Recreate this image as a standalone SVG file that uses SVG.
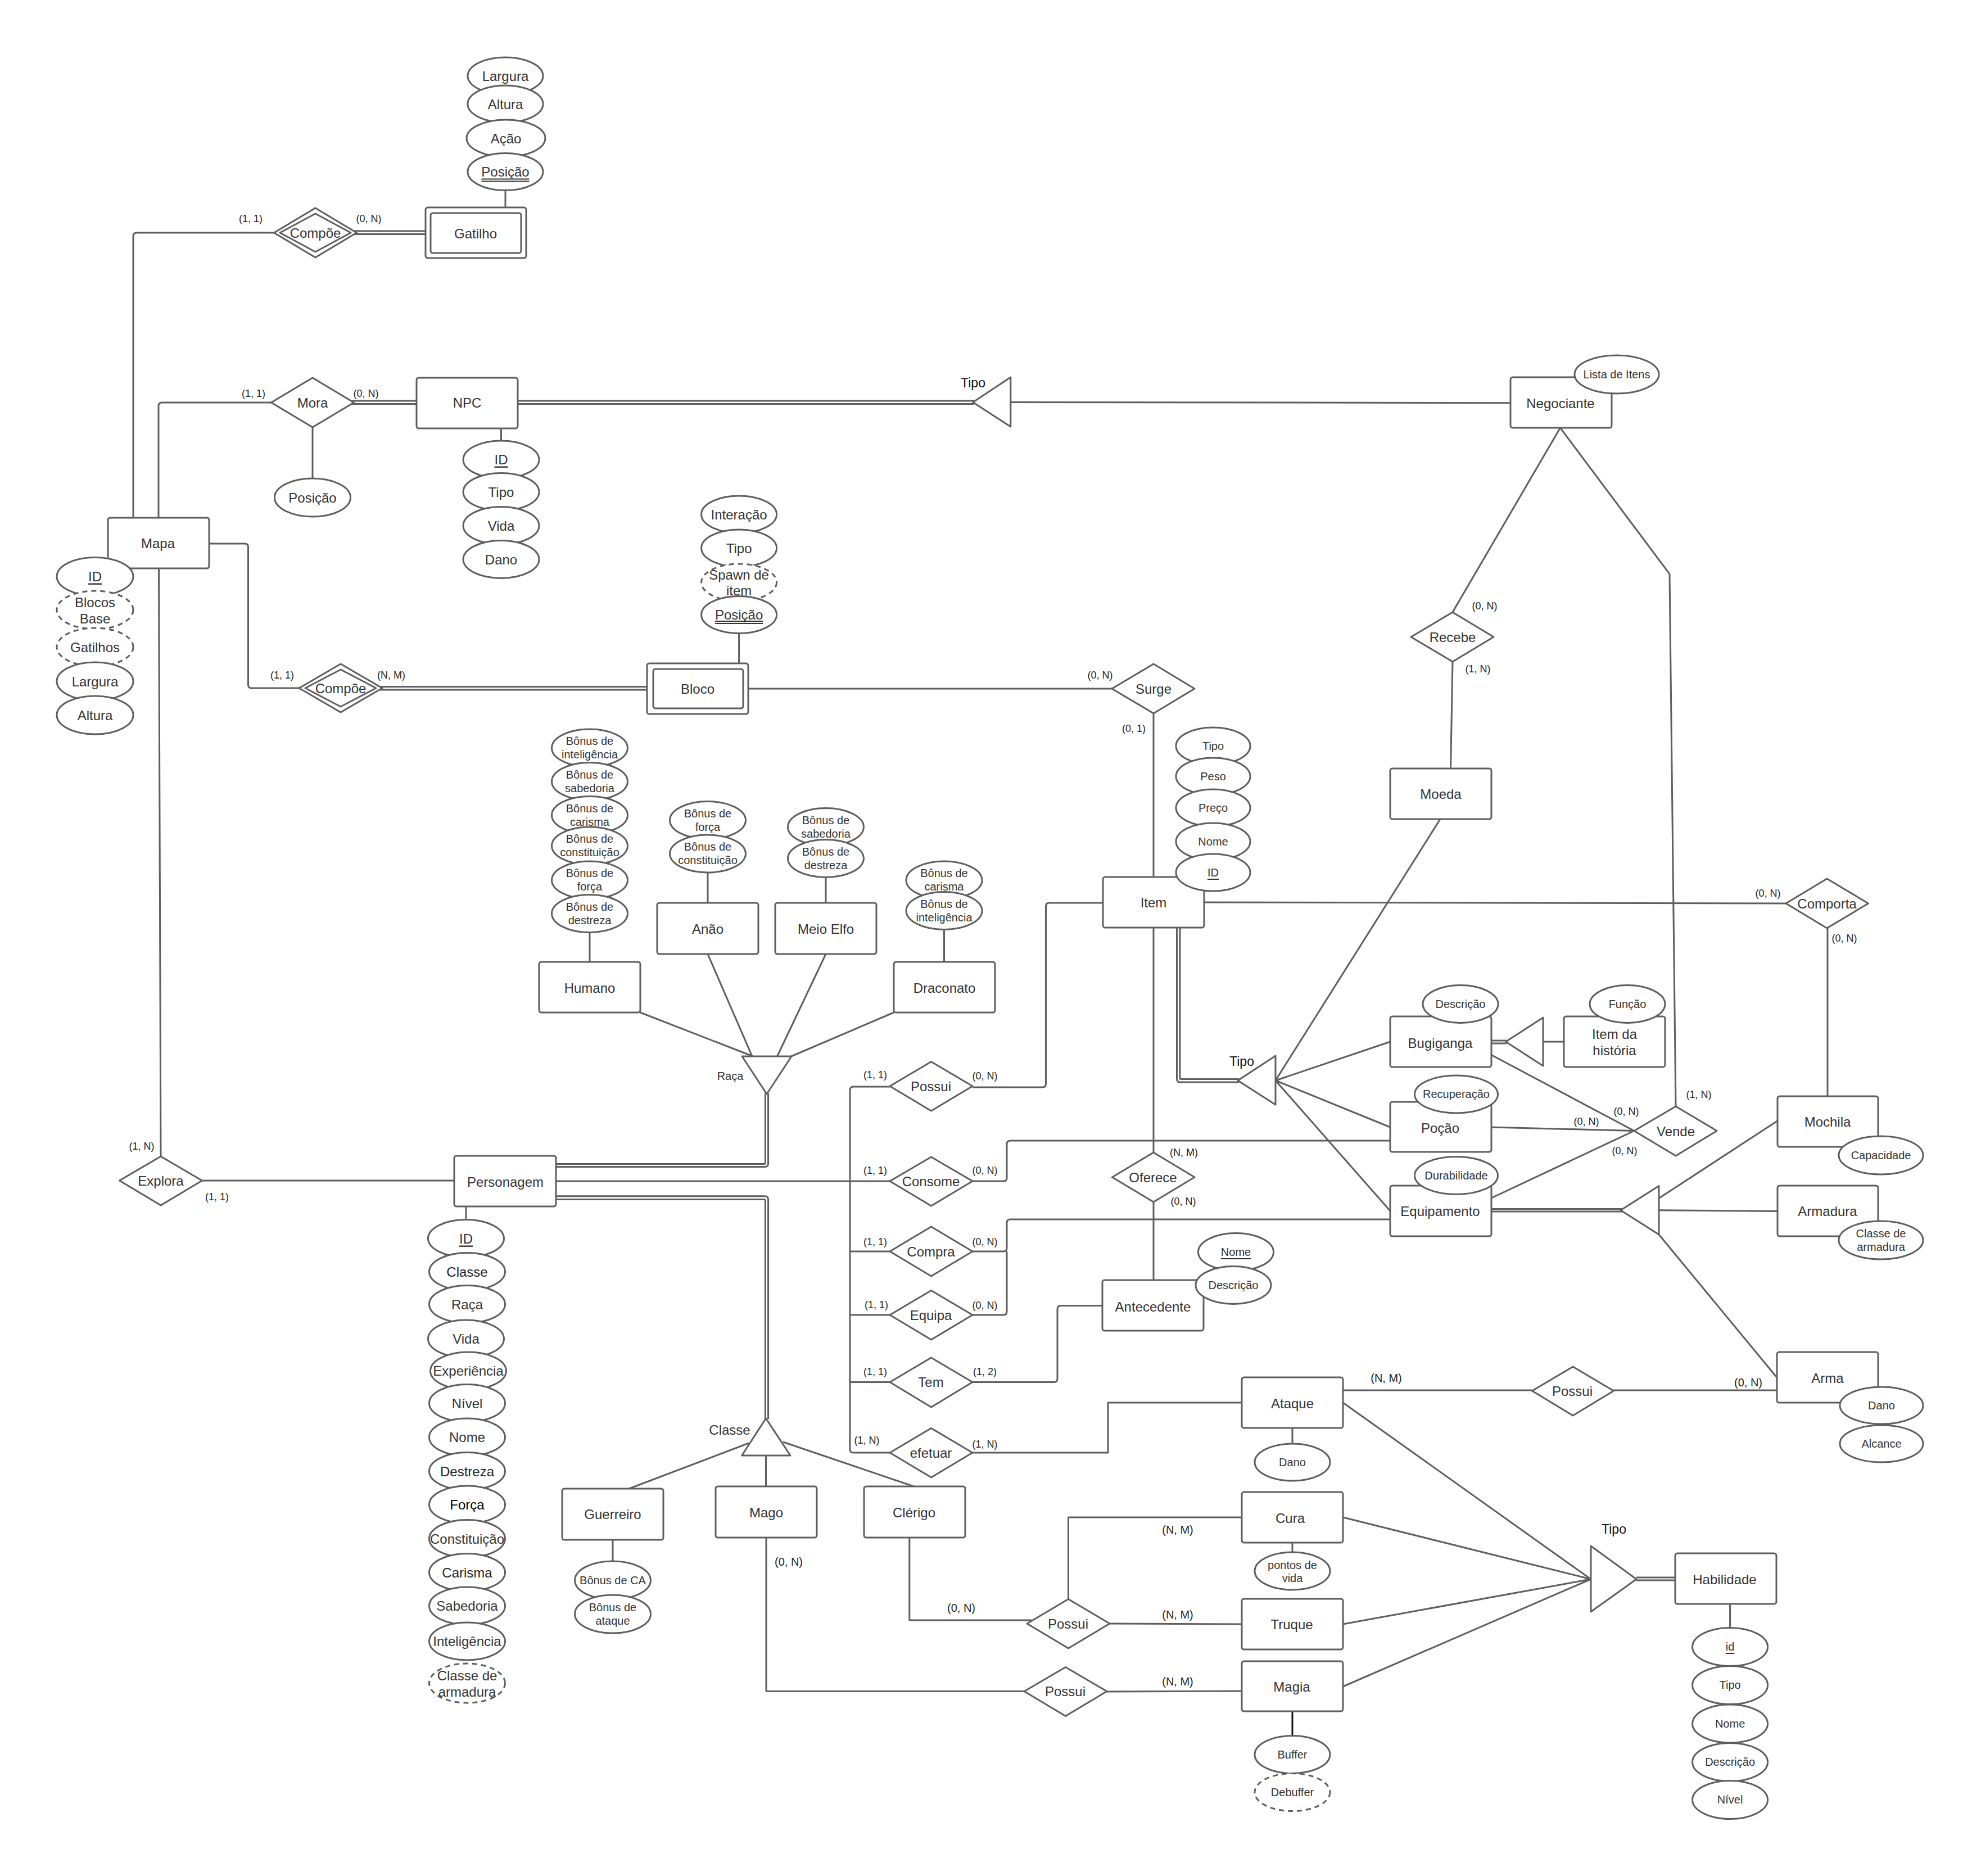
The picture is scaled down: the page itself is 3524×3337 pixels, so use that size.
<svg xmlns="http://www.w3.org/2000/svg" width="3524" height="3337" viewBox="0 0 3524 3337">
<style>
  .ln { fill: none; stroke: #5e5e5e; stroke-width: 3; stroke-linejoin: round; stroke-linecap: butt; }
  .en { fill: #fff; stroke: #5e5e5e; stroke-width: 3; }
  .rel { fill: #fff; stroke: #5e5e5e; stroke-width: 3; stroke-linejoin: round; }
  .at { fill: #fff; stroke: #5e5e5e; stroke-width: 3; }
  .dv { fill: #fff; stroke: #5e5e5e; stroke-width: 3; stroke-dasharray: 9 7; }
  .tri { fill: #fff; stroke: #5e5e5e; stroke-width: 3; stroke-linejoin: round; }
  text { font-family: "Liberation Sans", Arial, sans-serif; fill: #333; text-anchor: middle; dominant-baseline: central; }
  .l { font-size: 24px; }
  .m { font-size: 20px; }
  .c { font-size: 18px; fill: #222; }
  .cb { font-size: 20px; fill: #222; }
  .tp { font-size: 23px; fill: #111; }
  .u { text-decoration: underline; }
</style>
<rect width="3524" height="3337" fill="#fff"/>

<g id="connectors">
  <!-- Mapa side -->
  <path class="ln" d="M487,414 H243 Q237,414 237,420 V921"/>
  <path class="ln" d="M630,411 H757 M630,416.5 H757"/>
  <path class="ln" d="M899,339 V369"/>
  <path class="ln" d="M483,716 H288 Q282,716 282,722 V921"/>
  <path class="ln" d="M626,713 H741 M626,718.5 H741"/>
  <path class="ln" d="M556,760 V851"/>
  <path class="ln" d="M891.5,762 V784"/>
  <path class="ln" d="M921,713 H1733 M921,718.5 H1733"/>
  <path class="ln" d="M1797.8,715.4 L2687,716.7"/>
  <path class="ln" d="M2775.5,761 L2584,1089"/>
  <path class="ln" d="M2584,1177 L2580.6,1367"/>
  <path class="ln" d="M2562,1457 L2269,1922"/>
  <path class="ln" d="M2775.5,761 L2970,1021 L2981,1968"/>
  <path class="ln" d="M371.5,967 H435.5 Q441.5,967 441.5,973 V1218 Q441.5,1224 447.5,1224 H532"/>
  <path class="ln" d="M676,1221.5 H1151 M676,1227 H1151"/>
  <path class="ln" d="M1314.6,1127 V1180"/>
  <path class="ln" d="M1331,1225 H1978"/>
  <path class="ln" d="M2052,1269 V1560"/>
  <path class="ln" d="M2141,1605 L3177,1607"/>
  <path class="ln" d="M3251,1651 V1950"/>
  <!-- Item specialisation -->
  <path class="ln" d="M2093.5,1650 V1919 Q2093.5,1925 2099.5,1925 H2204 M2099,1650 V1917.5 Q2099,1919.5 2101,1919.5 H2204"/>
  <path class="ln" d="M2269,1922 L2473,1853 M2269,1922 L2473,2005 M2269,1922 L2473,2154"/>
  <path class="ln" d="M2652,1851 H2680 M2652,1856 H2680"/>
  <path class="ln" d="M2745,1853 H2782"/>
  <path class="ln" d="M2652,1876 L2907,2011.5 M2652,2005 L2907,2011.5 M2652,2131.5 L2907,2011.5"/>
  <path class="ln" d="M2652,2150.5 H2885 M2652,2155 H2885"/>
  <path class="ln" d="M2951,2131.5 L3162,1993.7 M2951,2152.7 L3162,2154.4 M2951,2196 L3161.5,2451"/>
  <!-- Races -->
  <path class="ln" d="M1139,1801 L1339.5,1879 M1259,1697 L1338,1879 M1469,1697 L1382.6,1879 M1590,1801 L1407.5,1879"/>
  <path class="ln" d="M1049,1658 V1711.5 M1259,1552 V1606 M1469,1560 V1606 M1679.5,1653 V1711.5"/>
  <path class="ln" d="M1366.6,1945 V2069.5 Q1366.6,2075.5 1360.6,2075.5 H989 M1361.4,1945 V2068.6 Q1361.4,2070.6 1359.4,2070.6 H989"/>
  <!-- Personagem hub -->
  <path class="ln" d="M989,2101 H1583"/>
  <path class="ln" d="M989,2127.8 H1360.6 Q1366.6,2127.8 1366.6,2133.8 V2524 M989,2133.6 H1359.4 Q1361.4,2133.6 1361.4,2135.6 V2524"/>
  <path class="ln" d="M1583,1933 H1518 Q1512,1933 1512,1939 V2578 Q1512,2584 1518,2584 H1583 M1512,2226 H1583 M1512,2339 H1583 M1512,2458.5 H1583"/>
  <path class="ln" d="M1730,1934 H1854.5 Q1860.5,1934 1860.5,1928 V1612 Q1860.5,1606 1866.5,1606 H1962"/>
  <path class="ln" d="M1730,2101 H1785 Q1791,2101 1791,2095 V2035 Q1791,2029 1797,2029 H2473"/>
  <path class="ln" d="M1730,2226 H1785 Q1791,2226 1791,2220 V2175 Q1791,2169 1797,2169 H2473"/>
  <path class="ln" d="M1730,2339 H1785 Q1791,2339 1791,2333 V2226"/>
  <path class="ln" d="M1730,2458.5 H1875 Q1881,2458.5 1881,2452.5 V2328.5 Q1881,2322.5 1887,2322.5 H1961"/>
  <path class="ln" d="M1730,2584 H1971 V2495 H2209"/>
  <path class="ln" d="M2052,1650 V2050 M2052,2138 V2277"/>
  <path class="ln" d="M282.5,1011 L286,2057"/>
  <path class="ln" d="M360,2100 H808.6"/>
  <path class="ln" d="M829,2146 V2170"/>
  <!-- Classe -->
  <path class="ln" d="M1332,2567 L1119,2648 M1362.5,2589 V2644 M1393,2565 L1625.6,2644"/>
  <path class="ln" d="M1090,2739 V2777"/>
  <path class="ln" d="M1363,2735 V3008.5 H1822"/>
  <path class="ln" d="M1617.8,2735 V2882 H1835"/>
  <path class="ln" d="M1900.5,2844 V2699 H2209"/>
  <path class="ln" d="M1974,2888 L2209,2889"/>
  <path class="ln" d="M1969,3009 L2209,3008"/>
  <!-- Habilidades -->
  <path class="ln" d="M2389,2473 H2725.5 M2870.5,2473 H3161.5"/>
  <path class="ln" d="M2389,2495 L2830,2809 M2389,2699 L2830,2809 M2389,2889 L2830,2809 M2389,3000 L2830,2809"/>
  <path class="ln" d="M2911,2806 H2980 M2911,2811 H2980"/>
  <path class="ln" d="M3077.6,2853 V2896"/>
  <path class="ln" d="M2299,2540 V2568 M2299,2744 V2761"/>
  <path d="M2299,3044 V3087" fill="none" stroke="#111" stroke-width="3"/>
</g>

<!-- Entities -->
<g id="gatilho"><rect class="en" x="757" y="369" width="179" height="90" rx="4"/><rect class="en" x="766" y="379" width="161" height="71" rx="4"/><text class="l" x="846" y="415">Gatilho</text></g>
<g id="npc"><rect class="en" x="741" y="672" width="180" height="90" rx="4"/><text class="l" x="831" y="716">NPC</text></g>
<g id="mapa"><rect class="en" x="192" y="921" width="180" height="90" rx="4"/><text class="l" x="281" y="966">Mapa</text></g>
<g id="bloco"><rect class="en" x="1151" y="1180" width="180" height="90" rx="4"/><rect class="en" x="1162" y="1190" width="160" height="70" rx="4"/><text class="l" x="1241" y="1225">Bloco</text></g>
<g id="negociante"><rect class="en" x="2687" y="671" width="180" height="90" rx="4"/><text class="l" x="2776" y="717">Negociante</text></g>
<g id="moeda"><rect class="en" x="2473" y="1367" width="180" height="90" rx="4"/><text class="l" x="2563" y="1412">Moeda</text></g>
<g id="item"><rect class="en" x="1962" y="1560" width="180" height="90" rx="4"/><text class="l" x="2052" y="1605">Item</text></g>
<g id="humano"><rect class="en" x="959" y="1711" width="180" height="90" rx="4"/><text class="l" x="1049" y="1757">Humano</text></g>
<g id="anao"><rect class="en" x="1169" y="1606" width="180" height="91" rx="4"/><text class="l" x="1259" y="1652">Anão</text></g>
<g id="meio-elfo"><rect class="en" x="1379" y="1606" width="180" height="91" rx="4"/><text class="l" x="1469" y="1652">Meio Elfo</text></g>
<g id="draconato"><rect class="en" x="1590" y="1711" width="180" height="90" rx="4"/><text class="l" x="1680" y="1757">Draconato</text></g>
<g id="personagem"><rect class="en" x="808" y="2056" width="181" height="90" rx="4"/><text class="l" x="899" y="2102">Personagem</text></g>
<g id="bugiganga"><rect class="en" x="2473" y="1808" width="180" height="90" rx="4"/><text class="l" x="2562" y="1855">Bugiganga</text></g>
<g id="item-historia"><rect class="en" x="2782" y="1808" width="180" height="90" rx="4"/><text class="l" x="2872" y="1853"><tspan x="2872" dy="-14">Item da</tspan><tspan x="2872" dy="29">história</tspan></text></g>
<g id="pocao"><rect class="en" x="2473" y="1960" width="180" height="89" rx="4"/><text class="l" x="2562" y="2006">Poção</text></g>
<g id="equipamento"><rect class="en" x="2473" y="2109" width="180" height="90" rx="4"/><text class="l" x="2562" y="2154">Equipamento</text></g>
<g id="mochila"><rect class="en" x="3162" y="1950" width="179" height="90" rx="4"/><text class="l" x="3251" y="1995">Mochila</text></g>
<g id="armadura"><rect class="en" x="3162" y="2109" width="179" height="90" rx="4"/><text class="l" x="3251" y="2154">Armadura</text></g>
<g id="arma"><rect class="en" x="3161" y="2405" width="180" height="90" rx="4"/><text class="l" x="3251" y="2451">Arma</text></g>
<g id="antecedente"><rect class="en" x="1961" y="2277" width="180" height="90" rx="4"/><text class="l" x="2051" y="2324">Antecedente</text></g>
<g id="ataque"><rect class="en" x="2209" y="2450" width="180" height="90" rx="4"/><text class="l" x="2299" y="2496">Ataque</text></g>
<g id="cura"><rect class="en" x="2209" y="2654" width="180" height="90" rx="4"/><text class="l" x="2295" y="2700">Cura</text></g>
<g id="truque"><rect class="en" x="2209" y="2844" width="180" height="90" rx="4"/><text class="l" x="2298" y="2889">Truque</text></g>
<g id="magia"><rect class="en" x="2209" y="2955" width="180" height="89" rx="4"/><text class="l" x="2298" y="3000">Magia</text></g>
<g id="habilidade"><rect class="en" x="2980" y="2763" width="180" height="90" rx="4"/><text class="l" x="3068" y="2809">Habilidade</text></g>
<g id="guerreiro"><rect class="en" x="1000" y="2648" width="180" height="91" rx="4"/><text class="l" x="1090" y="2693">Guerreiro</text></g>
<g id="mago"><rect class="en" x="1273" y="2644" width="180" height="91" rx="4"/><text class="l" x="1363" y="2690">Mago</text></g>
<g id="clerigo"><rect class="en" x="1537" y="2644" width="180" height="91" rx="4"/><text class="l" x="1626" y="2690">Clérigo</text></g>

<!-- Specialisation triangles -->
<g id="tipo-npc"><polygon class="tri" points="1730.7,715.4 1797.8,671 1797.8,759"/><text class="tp" x="1731" y="681">Tipo</text></g>
<g id="tipo-item"><polygon class="tri" points="2202,1922 2269,1878 2269,1965"/><text class="tp" x="2209" y="1888">Tipo</text></g>
<g id="tipo-bugiganga"><polygon class="tri" points="2678.6,1853 2745,1810 2745,1896"/></g>
<g id="tipo-equipamento"><polygon class="tri" points="2883,2152.7 2951,2109.6 2951,2196"/></g>
<g id="tipo-habilidade"><polygon class="tri" points="2830,2750 2911,2809 2830,2867"/><text class="tp" x="2871" y="2720">Tipo</text></g>
<g id="raca"><polygon class="tri" points="1320,1879 1408,1879 1364,1946"/><text class="m" x="1299" y="1914">Raça</text></g>
<g id="classe"><polygon class="tri" points="1362.5,2523 1406,2589 1319.7,2589"/><text class="l" x="1298" y="2543">Classe</text></g>

<!-- Relationships -->
<g id="compoe-gatilho"><polygon class="rel" points="487.5,414 561,370 634.5,414 561,458"/><polygon class="rel" points="498,414 561,380 624,414 561,448"/><text class="l" x="561" y="414">Compõe</text></g>
<g id="mora"><polygon class="rel" points="482.5,716 556,672 629.5,716 556,760"/><text class="l" x="556" y="716">Mora</text></g>
<g id="compoe-bloco"><polygon class="rel" points="532,1224 606,1181 680,1224 606,1267"/><polygon class="rel" points="543,1224 606,1191 669,1224 606,1257"/><text class="l" x="606" y="1224">Compõe</text></g>
<g id="surge"><polygon class="rel" points="1978,1225 2052,1181 2125,1225 2052,1269"/><text class="l" x="2052" y="1225">Surge</text></g>
<g id="recebe"><polygon class="rel" points="2510,1133 2584,1089 2657,1133 2584,1177"/><text class="l" x="2584" y="1133">Recebe</text></g>
<g id="comporta"><polygon class="rel" points="3177,1607 3250,1563 3323.5,1607 3250,1651"/><text class="l" x="3250" y="1607">Comporta</text></g>
<g id="vende"><polygon class="rel" points="2907,2011.5 2981,1968 3054,2011.5 2981,2056"/><text class="l" x="2981" y="2012">Vende</text></g>
<g id="explora"><polygon class="rel" points="212.5,2100 286,2057 359.5,2100 286,2144"/><text class="l" x="286" y="2100">Explora</text></g>
<g id="possui-item"><polygon class="rel" points="1583,1932 1656.5,1888.5 1730,1932 1656.5,1976"/><text class="l" x="1656" y="1932">Possui</text></g>
<g id="consome"><polygon class="rel" points="1583,2101 1656.5,2058 1730,2101 1656.5,2145"/><text class="l" x="1656" y="2101">Consome</text></g>
<g id="compra"><polygon class="rel" points="1583,2226 1656.5,2182 1730,2226 1656.5,2270"/><text class="l" x="1656" y="2226">Compra</text></g>
<g id="equipa"><polygon class="rel" points="1583,2339 1656.5,2295.5 1730,2339 1656.5,2383"/><text class="l" x="1656" y="2339">Equipa</text></g>
<g id="tem"><polygon class="rel" points="1583,2458.5 1656.5,2415 1730,2458.5 1656.5,2503"/><text class="l" x="1656" y="2458">Tem</text></g>
<g id="efetuar"><polygon class="rel" points="1583,2584 1656.5,2540.5 1730,2584 1656.5,2628"/><text class="l" x="1656" y="2584">efetuar</text></g>
<g id="oferece"><polygon class="rel" points="1978.5,2094 2052,2050 2125,2094 2052,2138"/><text class="l" x="2051" y="2094">Oferece</text></g>
<g id="possui-cura"><polygon class="rel" points="1827,2888 1900.5,2844.5 1974,2888 1900.5,2932"/><text class="l" x="1900" y="2888">Possui</text></g>
<g id="possui-magia"><polygon class="rel" points="1822,3008.5 1895.5,2965.5 1969,3008.5 1895.5,3052.5"/><text class="l" x="1895" y="3008">Possui</text></g>
<g id="possui-arma"><polygon class="rel" points="2725.5,2474 2798,2431 2870.5,2474 2798,2518"/><text class="l" x="2797" y="2474">Possui</text></g>

<!-- Attributes -->
<g id="gatilho-attrs">
  <ellipse class="at" cx="899" cy="135" rx="67" ry="33"/><text class="l" x="899" y="135">Largura</text>
  <ellipse class="at" cx="899" cy="185" rx="67" ry="33"/><text class="l" x="899" y="185">Altura</text>
  <ellipse class="at" cx="900" cy="246" rx="70" ry="33"/><text class="l" x="900" y="246">Ação</text>
  <ellipse class="at" cx="899" cy="305.5" rx="67" ry="33"/><text class="l" x="899" y="305">Posição</text>
  <path class="ln" d="M856.5,318.5 H941.5 M856.5,322.5 H941.5" style="stroke:#333;stroke-width:2"/>
</g>
<g id="mora-attrs"><ellipse class="at" cx="556" cy="885" rx="67.5" ry="34"/><text class="l" x="556" y="885">Posição</text></g>
<g id="npc-attrs">
  <ellipse class="at" cx="891.5" cy="817.5" rx="67.5" ry="33.5"/><text class="l u" x="891.5" y="817">ID</text>
  <ellipse class="at" cx="891.5" cy="875" rx="67.5" ry="33.5"/><text class="l" x="891.5" y="875">Tipo</text>
  <ellipse class="at" cx="891.5" cy="935" rx="67.5" ry="33.5"/><text class="l" x="891.5" y="935">Vida</text>
  <ellipse class="at" cx="891.5" cy="995" rx="67.5" ry="33.5"/><text class="l" x="891.5" y="995">Dano</text>
</g>
<g id="mapa-attrs">
  <ellipse class="at" cx="169" cy="1025.5" rx="68" ry="34"/><text class="l u" x="169" y="1025">ID</text>
  <ellipse class="dv" cx="169" cy="1085" rx="68" ry="34"/><text class="l" x="169" y="1085"><tspan x="169" dy="-14">Blocos</tspan><tspan x="169" dy="29">Base</tspan></text>
  <ellipse class="dv" cx="169" cy="1151" rx="68" ry="34"/><text class="l" x="169" y="1151">Gatilhos</text>
  <ellipse class="at" cx="169" cy="1212" rx="68" ry="34"/><text class="l" x="169" y="1212">Largura</text>
  <ellipse class="at" cx="169" cy="1272" rx="68" ry="34"/><text class="l" x="169" y="1272">Altura</text>
</g>
<g id="bloco-attrs">
  <ellipse class="at" cx="1314.6" cy="915" rx="67" ry="33"/><text class="l" x="1314.6" y="915">Interação</text>
  <ellipse class="at" cx="1314.6" cy="975" rx="67" ry="33"/><text class="l" x="1314.6" y="975">Tipo</text>
  <ellipse class="dv" cx="1314.6" cy="1036" rx="67" ry="33"/><text class="l" x="1314.6" y="1036"><tspan x="1314.6" dy="-14">Spawn de</tspan><tspan x="1314.6" dy="28">item</tspan></text>
  <ellipse class="at" cx="1314.6" cy="1093.5" rx="67" ry="33"/><text class="l" x="1314.6" y="1093">Posição</text>
  <path class="ln" d="M1272,1105 H1357 M1272,1109 H1357" style="stroke:#333;stroke-width:2"/>
</g>
<g id="negociante-attrs"><ellipse class="at" cx="2876" cy="666" rx="75" ry="34"/><text class="m" x="2876" y="666">Lista de Itens</text></g>
<g id="item-attrs">
  <ellipse class="at" cx="2158" cy="1327" rx="66" ry="33"/><text class="m" x="2158" y="1327">Tipo</text>
  <ellipse class="at" cx="2158" cy="1381" rx="66" ry="33"/><text class="m" x="2158" y="1381">Peso</text>
  <ellipse class="at" cx="2158" cy="1437" rx="66" ry="33"/><text class="m" x="2158" y="1437">Preço</text>
  <ellipse class="at" cx="2158" cy="1497" rx="66" ry="33"/><text class="m" x="2158" y="1497">Nome</text>
  <ellipse class="at" cx="2158" cy="1552" rx="66" ry="33"/><text class="m u" x="2158" y="1552">ID</text>
</g>
<g id="humano-attrs">
  <ellipse class="at" cx="1049" cy="1330.5" rx="67.5" ry="33.5"/><text class="m" x="1049" y="1330"><tspan x="1049" dy="-12">Bônus de</tspan><tspan x="1049" dy="24">inteligência</tspan></text>
  <ellipse class="at" cx="1049" cy="1390" rx="67.5" ry="33.5"/><text class="m" x="1049" y="1390"><tspan x="1049" dy="-12">Bônus de</tspan><tspan x="1049" dy="24">sabedoria</tspan></text>
  <ellipse class="at" cx="1049" cy="1450" rx="67.5" ry="33.5"/><text class="m" x="1049" y="1450"><tspan x="1049" dy="-12">Bônus de</tspan><tspan x="1049" dy="24">carisma</tspan></text>
  <ellipse class="at" cx="1049" cy="1504.5" rx="67.5" ry="33.5"/><text class="m" x="1049" y="1504"><tspan x="1049" dy="-12">Bônus de</tspan><tspan x="1049" dy="24">constituição</tspan></text>
  <ellipse class="at" cx="1049" cy="1565.5" rx="67.5" ry="33.5"/><text class="m" x="1049" y="1565"><tspan x="1049" dy="-12">Bônus de</tspan><tspan x="1049" dy="24">força</tspan></text>
  <ellipse class="at" cx="1049" cy="1625" rx="67.5" ry="33.5"/><text class="m" x="1049" y="1625"><tspan x="1049" dy="-12">Bônus de</tspan><tspan x="1049" dy="24">destreza</tspan></text>
</g>
<g id="anao-attrs">
  <ellipse class="at" cx="1259" cy="1459" rx="67.5" ry="33.5"/><text class="m" x="1259" y="1459"><tspan x="1259" dy="-12">Bônus de</tspan><tspan x="1259" dy="24">força</tspan></text>
  <ellipse class="at" cx="1259" cy="1518.5" rx="67.5" ry="33.5"/><text class="m" x="1259" y="1518"><tspan x="1259" dy="-12">Bônus de</tspan><tspan x="1259" dy="24">constituição</tspan></text>
</g>
<g id="meio-elfo-attrs">
  <ellipse class="at" cx="1469" cy="1471" rx="67.5" ry="33.5"/><text class="m" x="1469" y="1471"><tspan x="1469" dy="-12">Bônus de</tspan><tspan x="1469" dy="24">sabedoria</tspan></text>
  <ellipse class="at" cx="1469" cy="1527" rx="67.5" ry="33.5"/><text class="m" x="1469" y="1527"><tspan x="1469" dy="-12">Bônus de</tspan><tspan x="1469" dy="24">destreza</tspan></text>
</g>
<g id="draconato-attrs">
  <ellipse class="at" cx="1679.5" cy="1565.5" rx="67.5" ry="33.5"/><text class="m" x="1679.5" y="1565"><tspan x="1679.5" dy="-12">Bônus de</tspan><tspan x="1679.5" dy="24">carisma</tspan></text>
  <ellipse class="at" cx="1679.5" cy="1620" rx="67.5" ry="33.5"/><text class="m" x="1679.5" y="1620"><tspan x="1679.5" dy="-12">Bônus de</tspan><tspan x="1679.5" dy="24">inteligência</tspan></text>
</g>
<g id="mochila-attrs"><ellipse class="at" cx="3346" cy="2055" rx="75" ry="34"/><text class="m" x="3346" y="2055">Capacidade</text></g>
<g id="armadura-attrs"><ellipse class="at" cx="3346" cy="2206" rx="75" ry="34"/><text class="m" x="3346" y="2206"><tspan x="3346" dy="-12">Classe de</tspan><tspan x="3346" dy="24">armadura</tspan></text></g>
<g id="bugiganga-attrs"><ellipse class="at" cx="2598" cy="1786" rx="67" ry="33.5"/><text class="m" x="2598" y="1786">Descrição</text></g>
<g id="item-historia-attrs"><ellipse class="at" cx="2895" cy="1786" rx="67" ry="33.5"/><text class="m" x="2895" y="1786">Função</text></g>
<g id="pocao-attrs"><ellipse class="at" cx="2590.5" cy="1946.5" rx="74" ry="33.5"/><text class="m" x="2590.5" y="1946">Recuperação</text></g>
<g id="equipamento-attrs"><ellipse class="at" cx="2590.5" cy="2091" rx="74" ry="33.5"/><text class="m" x="2590.5" y="2091">Durabilidade</text></g>
<g id="antecedente-attrs">
  <ellipse class="at" cx="2198.5" cy="2227" rx="67" ry="33.5"/><text class="m u" x="2198.5" y="2227">Nome</text>
  <ellipse class="at" cx="2194" cy="2286" rx="67" ry="33.5"/><text class="m" x="2194" y="2286">Descrição</text>
</g>
<g id="personagem-attrs">
  <ellipse class="at" cx="829" cy="2203" rx="67.5" ry="33.5"/><text class="l u" x="829" y="2203">ID</text>
  <ellipse class="at" cx="831" cy="2262" rx="67.5" ry="33.5"/><text class="l" x="831" y="2262" style="fill:#222">Classe</text>
  <ellipse class="at" cx="831" cy="2320" rx="67.5" ry="33.5"/><text class="l" x="831" y="2320">Raça</text>
  <ellipse class="at" cx="829" cy="2381.5" rx="67.5" ry="33.5"/><text class="l" x="829" y="2381">Vida</text>
  <ellipse class="at" cx="833" cy="2438.5" rx="67.5" ry="33.5"/><text class="l" x="833" y="2438">Experiência</text>
  <ellipse class="at" cx="831" cy="2496" rx="67.5" ry="33.5"/><text class="l" x="831" y="2496">Nível</text>
  <ellipse class="at" cx="831" cy="2556.5" rx="67.5" ry="33.5"/><text class="l" x="831" y="2556">Nome</text>
  <ellipse class="at" cx="831" cy="2617" rx="67.5" ry="33.5"/><text class="l" x="831" y="2617" style="fill:#222">Destreza</text>
  <ellipse class="at" cx="831" cy="2676.5" rx="67.5" ry="33.5"/><text class="l" x="831" y="2676" style="fill:#000">Força</text>
  <ellipse class="at" cx="831" cy="2737" rx="67.5" ry="33.5"/><text class="l" x="831" y="2737">Constituição</text>
  <ellipse class="at" cx="831" cy="2797" rx="67.5" ry="33.5"/><text class="l" x="831" y="2797" style="fill:#222">Carisma</text>
  <ellipse class="at" cx="831" cy="2856.5" rx="67.5" ry="33.5"/><text class="l" x="831" y="2856">Sabedoria</text>
  <ellipse class="at" cx="831" cy="2919.5" rx="67.5" ry="33.5"/><text class="l" x="831" y="2919">Inteligência</text>
  <ellipse class="dv" cx="831" cy="2994" rx="67.5" ry="35"/><text class="l" x="831" y="2994"><tspan x="831" dy="-14">Classe de</tspan><tspan x="831" dy="29">armadura</tspan></text>
</g>
<g id="guerreiro-attrs">
  <ellipse class="at" cx="1090" cy="2811" rx="67.5" ry="34"/><text class="m" x="1090" y="2811">Bônus de CA</text>
  <ellipse class="at" cx="1090" cy="2871" rx="67.5" ry="34"/><text class="m" x="1090" y="2871"><tspan x="1090" dy="-12">Bônus de</tspan><tspan x="1090" dy="24">ataque</tspan></text>
</g>
<g id="ataque-attrs"><ellipse class="at" cx="2299" cy="2601" rx="67" ry="33"/><text class="m" x="2299" y="2601">Dano</text></g>
<g id="cura-attrs"><ellipse class="at" cx="2299" cy="2794.5" rx="67" ry="33.5"/><text class="m" x="2299" y="2795"><tspan x="2299" dy="-11.5">pontos de</tspan><tspan x="2299" dy="23">vida</tspan></text></g>
<g id="magia-attrs">
  <ellipse class="at" cx="2299" cy="3121" rx="67" ry="33.5"/><text class="m" x="2299" y="3121">Buffer</text>
  <ellipse class="dv" cx="2299" cy="3188" rx="67" ry="33.5"/><text class="m" x="2299" y="3188">Debuffer</text>
</g>
<g id="arma-attrs">
  <ellipse class="at" cx="3347" cy="2500" rx="74" ry="33"/><text class="m" x="3347" y="2500">Dano</text>
  <ellipse class="at" cx="3347" cy="2568" rx="74" ry="33"/><text class="m" x="3347" y="2568">Alcance</text>
</g>
<g id="habilidade-attrs">
  <ellipse class="at" cx="3077.6" cy="2929.5" rx="67" ry="34"/><text class="m u" x="3077.6" y="2929">id</text>
  <ellipse class="at" cx="3077.6" cy="2997.5" rx="67" ry="34"/><text class="m" x="3077.6" y="2997">Tipo</text>
  <ellipse class="at" cx="3077.6" cy="3066" rx="67" ry="34"/><text class="m" x="3077.6" y="3066">Nome</text>
  <ellipse class="at" cx="3077.6" cy="3134.5" rx="67" ry="34"/><text class="m" x="3077.6" y="3134">Descrição</text>
  <ellipse class="at" cx="3077.6" cy="3201.5" rx="67" ry="34"/><text class="m" x="3077.6" y="3201">Nível</text>
</g>

<!-- Cardinalities -->
<g id="cardinalities">
  <text class="c" x="446" y="389">(1, 1)</text><text class="c" x="656" y="389">(0, N)</text>
  <text class="c" x="451" y="700">(1, 1)</text><text class="c" x="651" y="700">(0, N)</text>
  <text class="c" x="502" y="1201">(1, 1)</text><text class="c" x="696" y="1201">(N, M)</text>
  <text class="c" x="1957" y="1201">(0, N)</text><text class="c" x="2017" y="1296">(0, 1)</text>
  <text class="c" x="2641" y="1078">(0, N)</text><text class="c" x="2629" y="1190">(1, N)</text>
  <text class="c" x="3145" y="1589">(0, N)</text><text class="c" x="3281" y="1669">(0, N)</text>
  <text class="c" x="3022" y="1947">(1, N)</text><text class="c" x="2893" y="1977">(0, N)</text>
  <text class="c" x="2822" y="1995">(0, N)</text><text class="c" x="2890" y="2047">(0, N)</text>
  <text class="c" x="2106" y="2050">(N, M)</text><text class="c" x="2105" y="2137">(0, N)</text>
  <text class="c" x="252" y="2039">(1, N)</text><text class="c" x="386" y="2129">(1, 1)</text>
  <text class="c" x="1557" y="1912">(1, 1)</text><text class="c" x="1752" y="1914">(0, N)</text>
  <text class="c" x="1557" y="2082">(1, 1)</text><text class="c" x="1752" y="2082">(0, N)</text>
  <text class="c" x="1557" y="2209">(1, 1)</text><text class="c" x="1752" y="2209">(0, N)</text>
  <text class="c" x="1559" y="2321">(1, 1)</text><text class="c" x="1752" y="2322">(0, N)</text>
  <text class="c" x="1557" y="2440">(1, 1)</text><text class="c" x="1752" y="2440">(1, 2)</text>
  <text class="c" x="1542" y="2562">(1, N)</text><text class="c" x="1752" y="2569">(1, N)</text>
  <text class="cb" x="1403" y="2778">(0, N)</text><text class="cb" x="1710" y="2860">(0, N)</text>
  <text class="cb" x="2095" y="2721">(N, M)</text><text class="cb" x="2095" y="2872">(N, M)</text><text class="cb" x="2095" y="2991">(N, M)</text>
  <text class="cb" x="2466" y="2451">(N, M)</text><text class="cb" x="3110" y="2459">(0, N)</text>
</g>
</svg>
